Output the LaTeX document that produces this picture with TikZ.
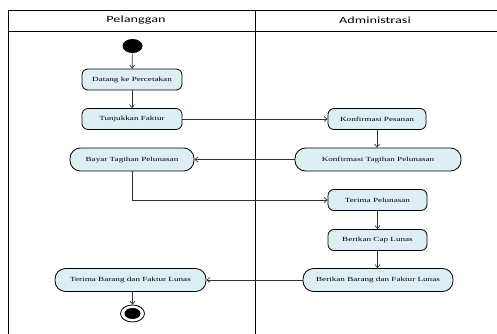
\documentclass[tikz,border=0pt]{standalone}
\usepackage{fontspec}
\setmainfont{Liberation Serif}
\newfontfamily\headfont{Carlito}
\usetikzlibrary{arrows.meta,shapes.geometric}
\definecolor{actfill}{HTML}{DDEEF4}
% horizontally widened labels
\newcommand{\widetxt}[1]{\scalebox{1.45}[1]{#1}}
\tikzset{
  act/.style={draw=black, line width=0.8pt, fill=actfill, rounded corners=6pt,
    minimum height=21pt, inner sep=1pt, font=\fontsize{6.3}{7}\selectfont},
  actwide/.style={act, rounded corners=10.5pt, minimum height=23pt},
  flow/.style={draw=black!80, line width=0.7pt, -{Straight Barb[length=3pt,width=5pt]}},
  lane/.style={draw=black, line width=0.8pt},
  head/.style={font=\headfont\fontsize{9.5}{10}\selectfont}
}
\begin{document}
\begin{tikzpicture}[x=1pt,y=-1pt]
\useasboundingbox (0,0) rectangle (497,334);
% swimlane frame
\draw[lane] (8,334) -- (8,10) -- (497,10);
\draw[lane] (8,31) -- (497,31);
\draw[lane] (255,10) -- (255,334);
\node[head] (h1) at (136,20.5) {\scalebox{1.5}[1]{Pelanggan}};
\node[head] (h2) at (375,20.5) {\scalebox{1.5}[1]{Administrasi}};
% start and end
\node[ellipse, fill=black, minimum width=20pt, minimum height=14pt, inner sep=0pt] (start) at (132.5,46) {};
\node[ellipse, draw=black, line width=0.8pt, fill=white, minimum width=24pt, minimum height=17pt, inner sep=0pt] (end) at (132.5,313.5) {};
\node[ellipse, fill=black, minimum width=16pt, minimum height=11pt, inner sep=0pt] (endin) at (end.center) {};
% activities
\node[act, minimum width=100pt] (datang) at (132,79.5) {\widetxt{Datang ke Percetakan}};
\node[act, minimum width=100pt] (tunjuk) at (132,119) {\widetxt{Tunjukkan Faktur}};
\node[actwide, minimum width=124pt] (bayar) at (132,159.5) {\widetxt{Bayar Tagihan Pelunasan}};
\node[act, minimum width=98pt] (konfp) at (377,119) {\widetxt{Konfirmasi Pesanan}};
\node[actwide, minimum width=166pt] (konft) at (378,159.5) {\widetxt{Konfirmasi Tagihan Pelunasan}};
\node[act, minimum width=99pt] (terimap) at (377.5,200) {\widetxt{Terima Pelunasan}};
\node[act, minimum width=99pt] (cap) at (377.5,240) {\widetxt{Berikan Cap Lunas}};
\node[actwide, minimum width=150pt] (berikan) at (378,280) {\widetxt{Berikan Barang dan Faktur Lunas}};
\node[actwide, minimum width=151pt] (terimab) at (130.5,280) {\widetxt{Terima Barang dan Faktur Lunas}};
% flows
\draw[flow] (start) -- (datang);
\draw[flow] (datang) -- (tunjuk);
\draw[flow] (tunjuk) -- (konfp);
\draw[flow] (konfp.south) -- (konfp.south |- konft.north);
\draw[flow] (konft) -- (bayar);
\draw[flow] (bayar.south) |- (terimap.west);
\draw[flow] (terimap.south) -- (terimap.south |- cap.north);
\draw[flow] (cap.south) -- (cap.south |- berikan.north);
\draw[flow] (berikan) -- (terimab);
\draw[flow] (terimab.south -| end.north) -- (end.north);
\end{tikzpicture}
\end{document}
